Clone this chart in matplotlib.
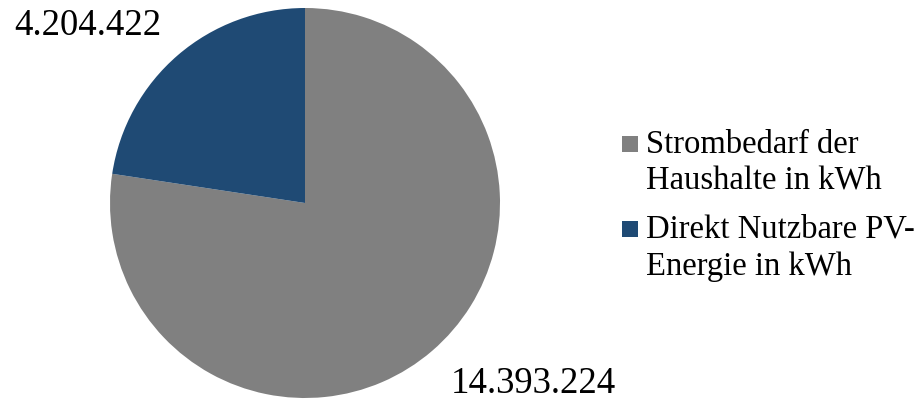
import matplotlib.pyplot as plt
from matplotlib.patches import Rectangle

plt.rcParams['font.family'] = ['Liberation Serif', 'DejaVu Serif']

# Strombedarf vs. direkt nutzbare PV-Energie (kWh)
labels = ["Strombedarf der\nHaushalte in kWh", "Direkt Nutzbare PV-\nEnergie in kWh"]
values = [14393224, 4204422]
value_labels = ["14.393.224", "4.204.422"]
colors = ["#808080", "#1F4A74"]

fig = plt.figure(figsize=(9.21, 4.0), dpi=100)
W, H = 921, 400
cx, cy, r = 305, 203, 195
ax = fig.add_axes([(cx - r) / W, (H - cy - r) / H, 2 * r / W, 2 * r / H])

ax.pie(values, colors=colors, startangle=90, counterclock=False, radius=1.0)
ax.set_xlim(-1, 1)
ax.set_ylim(-1, 1)
ax.set_aspect('equal')
ax.axis('off')

# Wertebeschriftungen ausserhalb des Kreises
fig.text(88 / W, 1 - 26 / H, value_labels[1], ha='center', va='center', fontsize=26.5)
fig.text(533 / W, 1 - 384 / H, value_labels[0], ha='center', va='center', fontsize=26.5)

# Legende von Hand: Quadrat an der ersten Zeile, zweizeilige Texte
first_baseline = [153, 238]
for lab, col, base in zip(labels, colors, first_baseline):
    fig.add_artist(Rectangle((622 / W, 1 - (base - 1) / H), 16 / W, 16 / H,
                             transform=fig.transFigure, facecolor=col, edgecolor='none'))
    for i, line in enumerate(lab.split("\n")):
        fig.text(646 / W, 1 - (base + 37 * i) / H, line, ha='left', va='baseline',
                 fontsize=23.5)

fig.savefig("out.png", dpi=100)
